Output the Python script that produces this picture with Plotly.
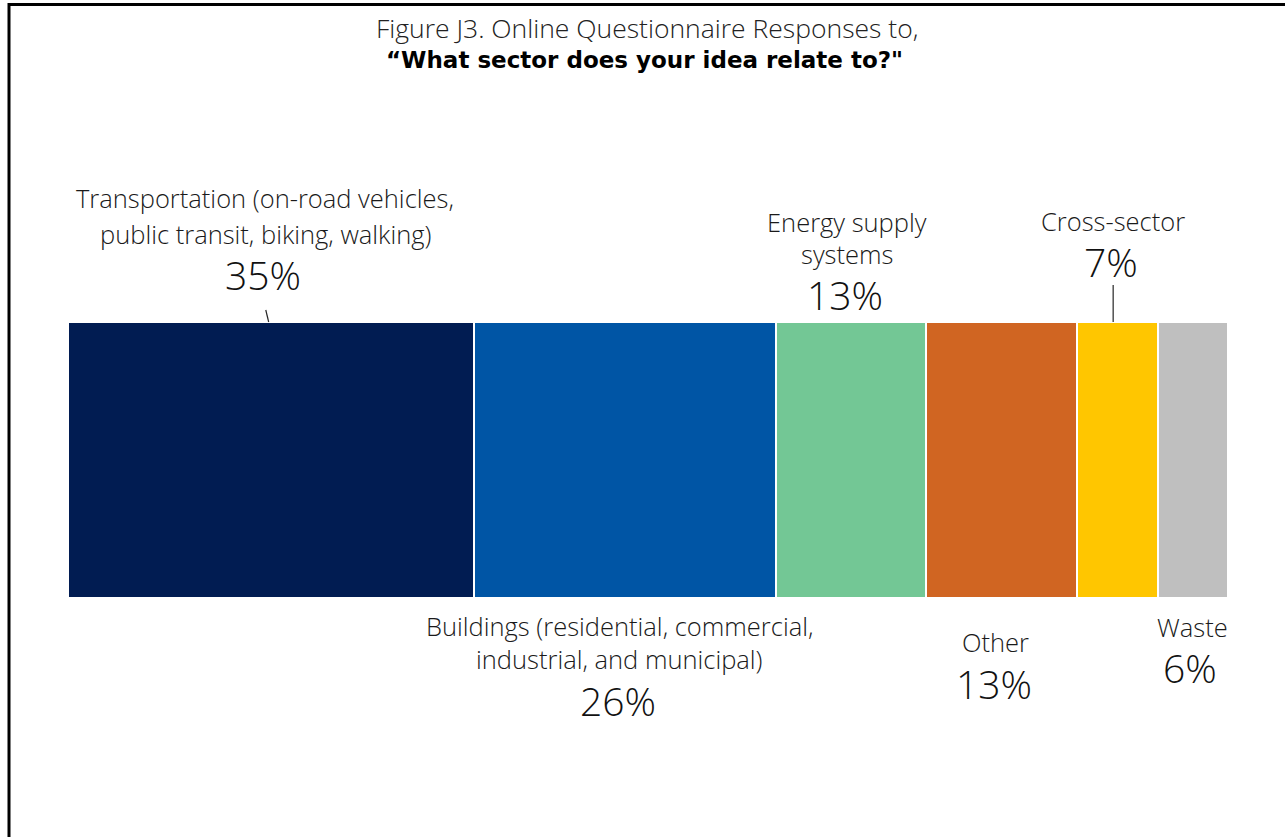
import plotly.graph_objects as go

# Share of questionnaire responses by sector (percent)
sectors = ["Transportation", "Buildings", "Energy supply systems", "Other", "Cross-sector", "Waste"]
shares = [35, 26, 13, 13, 7, 6]
colors = ["#011c52", "#0055a5", "#73c795", "#d06522", "#ffc600", "#bfbfbf"]

# Label text per sector (lines of the category name)
label_lines = [
    ["Transportation (on-road vehicles,", "public transit, biking, walking)"],
    ["Buildings (residential, commercial,", "industrial, and municipal)"],
    ["Energy supply", "systems"],
    ["Other"],
    ["Cross-sector"],
    ["Waste"],
]

W, H = 1285, 837
L, R, T, B = 68, 57, 322, 239
plot_h = H - T - B
plot_w = W - L - R


def py(p):
    """Pixel row -> paper y."""
    return (H - B - p) / plot_h


def px(p):
    """Pixel column -> paper x."""
    return (p - L) / plot_w


fig = go.Figure()
for name, val, col in zip(sectors, shares, colors):
    fig.add_trace(go.Bar(
        y=["all"], x=[val], orientation="h", name=name,
        marker=dict(color=col, line=dict(color="white", width=2)),
        hoverinfo="name+x",
    ))

label_font = dict(family="Open Sans", size=25.5, color="#1a1a1a", weight=300)
pct_font = dict(family="Open Sans", size=39, color="#111111", weight=300)

# vertical pixel rows for text lines
rows = {
    "Transportation": ([198, 234], 274),
    "Buildings": ([626, 659], 700),
    "Energy supply systems": ([222, 254], 294),
    "Other": ([642], 683),
    "Cross-sector": ([221], 261),
    "Waste": ([627], 667),
}
x_shift = {"Transportation": -6, "Buildings": -5, "Energy supply systems": -4,
           "Other": -6, "Cross-sector": -5, "Waste": -1}

annotations = []
start = 0
centers = []
for name, val, lines in zip(sectors, shares, label_lines):
    c = start + val / 2
    centers.append(c)
    start += val
    line_rows, pct_row = rows[name]
    for txt, r in zip(lines, line_rows):
        annotations.append(dict(x=c, y=py(r), xref="x", yref="paper", text=txt,
                                showarrow=False, font=label_font, xshift=x_shift[name],
                                xanchor="center", yanchor="middle"))
    annotations.append(dict(x=c, y=py(pct_row), xref="x", yref="paper", text=f"{val}%",
                            showarrow=False, font=pct_font, xshift=x_shift[name] - 2,
                            xanchor="center", yanchor="middle"))

# chart title
annotations.append(dict(x=px(647), y=py(28), xref="paper", yref="paper",
                        text="Figure J3. Online Questionnaire Responses to,",
                        showarrow=False, xanchor="center", yanchor="middle",
                        font=dict(family="Open Sans", size=26.5, color="#222222", weight=300)))
annotations.append(dict(x=px(644), y=py(60), xref="paper", yref="paper",
                        text="<b>“What sector does your idea relate to?\"</b>",
                        showarrow=False, xanchor="center", yanchor="middle",
                        font=dict(family="DejaVu Sans", size=23, color="#000000")))

shapes = [
    # frame around the figure
    dict(type="rect", xref="paper", yref="paper", x0=px(9), x1=px(1300), y0=py(4.5), y1=py(860),
         line=dict(color="black", width=3), fillcolor="rgba(0,0,0,0)", layer="above"),
    # leader lines
    dict(type="line", xref="x", yref="paper", x0=centers[0] - 0.45, x1=centers[0] - 0.2,
         y0=py(310), y1=py(322), line=dict(color="#262626", width=1.2)),
    dict(type="line", xref="x", yref="paper", x0=centers[4] - 0.4, x1=centers[4] - 0.4,
         y0=py(285), y1=py(322), line=dict(color="#262626", width=1.2)),
]

fig.update_layout(
    barmode="stack", bargap=0,
    width=W, height=H,
    margin=dict(l=L, r=R, t=T, b=B, pad=0),
    paper_bgcolor="white", plot_bgcolor="white",
    showlegend=False,
    xaxis=dict(range=[0, 100], visible=False, fixedrange=True),
    yaxis=dict(range=[-0.5, 0.5], visible=False, fixedrange=True),
    annotations=annotations, shapes=shapes,
)

fig.write_html("out.html")
